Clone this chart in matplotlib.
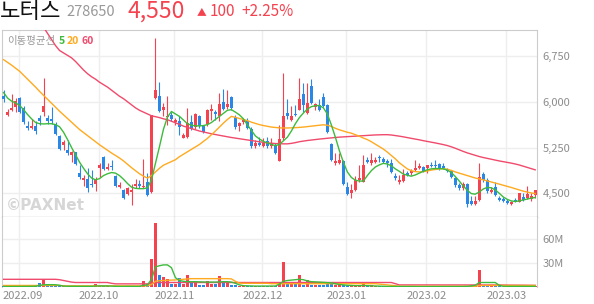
import numpy as np
import pandas as pd
import matplotlib
matplotlib.use("Agg")
import matplotlib.pyplot as plt
from matplotlib.transforms import offset_copy

plt.rcParams['font.family'] = ['Noto Sans CJK KR', 'DejaVu Sans']

# trading days shown (KRX holidays removed)
holidays = ['2022-09-09', '2022-09-12', '2022-10-03', '2022-10-10',
            '2022-12-30', '2023-01-23', '2023-01-24', '2023-03-01']
dates = pd.bdate_range('2022-08-26', '2023-03-13')
dates = dates[~dates.isin(pd.to_datetime(holidays))]

opens = [6100, 5790, 5860, 5910, 6060, 5900, 5600, 5570, 5610, 5730,
         5835, 5730, 5720, 5640, 5435, 5290, 5215, 5130, 5170, 4825,
         4715, 4735, 4660, 4660, 4910, 5095, 4895, 4950, 4785, 4595,
         4560, 4480, 4525, 4620, 4655, 4595, 4690, 4520, 6060, 6090,
         5870, 5745, 5780, 5660, 5680, 5410, 5430, 5660, 5580, 5760,
         5600, 5630, 5845, 5840, 5760, 6000, 5910, 6070, 5750, 5610,
         5660, 5680, 5560, 5270, 5320, 5280, 5350, 5280, 5290, 5035,
         5400, 5815, 5700, 5800, 5870, 6120, 5820, 6250, 5920, 5940,
         6070, 5940, 5310, 4990, 5000, 5030, 4600, 4510, 4560, 4720,
         4690, 5050, 4990, 5010, 5100, 5060, 5030, 4990, 4790, 4680,
         4700, 4840, 4830, 4880, 4920, 4930, 4915, 4970, 4970, 4980,
         4950, 4880, 4860, 4750, 4640, 4580, 4650, 4370, 4330, 4390,
         4820, 4720, 4520, 4610, 4420, 4410, 4380, 4320, 4390, 4360,
         4440, 4420, 4400, 4470]
highs = [6185, 5880, 6130, 6060, 6075, 5930, 5690, 5720, 5690, 5780,
         6395, 5790, 5910, 5660, 5450, 5380, 5380, 5200, 5180, 4965,
         4800, 4910, 4880, 4770, 4990, 5115, 4990, 5050, 4800, 4680,
         4570, 4600, 4660, 4730, 4715, 5060, 4840, 5790, 7050, 6330,
         5980, 6090, 5830, 5740, 5760, 5490, 5900, 5790, 5820, 5780,
         5620, 5880, 5960, 5860, 6150, 6210, 6190, 6090, 5780, 5660,
         5720, 5740, 5590, 5370, 5430, 5400, 5430, 5400, 5320, 5620,
         6470, 6050, 5930, 5950, 6390, 6310, 6310, 6380, 5980, 6040,
         6140, 5960, 5320, 5160, 5160, 5050, 4690, 4650, 4780, 4970,
         5120, 5090, 5160, 5100, 5130, 5100, 5060, 5060, 4840, 4800,
         4900, 4860, 4890, 5040, 5000, 4950, 4960, 5020, 5040, 5000,
         4990, 4910, 4880, 4770, 4670, 4680, 4670, 4450, 4450, 5000,
         4850, 4750, 4600, 4680, 4450, 4440, 4410, 4380, 4430, 4500,
         4510, 4620, 4500, 4560]
lows = [5990, 5770, 5850, 5830, 5810, 5640, 5530, 5550, 5470, 5620,
        5770, 5640, 5640, 5450, 5215, 5210, 5130, 5020, 4965, 4740,
        4620, 4520, 4610, 4535, 4770, 4880, 4885, 4880, 4605, 4580,
        4410, 4465, 4310, 4580, 4590, 4580, 4450, 4510, 6050, 5840,
        5760, 5620, 5690, 5620, 5450, 5400, 5400, 5540, 5560, 5570,
        5480, 5610, 5700, 5700, 5690, 5870, 5880, 5860, 5560, 5520,
        5640, 5550, 5250, 5240, 5270, 5260, 5240, 5250, 5140, 5030,
        5370, 5710, 5680, 5760, 5860, 5830, 5800, 5960, 5870, 5850,
        5920, 5490, 5030, 4970, 4980, 4640, 4470, 4420, 4540, 4690,
        4680, 4990, 4970, 4990, 5020, 4990, 4930, 4840, 4720, 4660,
        4680, 4780, 4800, 4870, 4890, 4850, 4840, 4930, 4920, 4880,
        4900, 4850, 4750, 4600, 4560, 4560, 4280, 4310, 4310, 4370,
        4690, 4500, 4500, 4450, 4380, 4360, 4330, 4310, 4360, 4350,
        4380, 4400, 4380, 4430]
closes = [6045, 5835, 5905, 6010, 5825, 5660, 5565, 5610, 5520, 5680,
          5935, 5690, 5680, 5465, 5230, 5340, 5160, 5175, 4975, 4760,
          4750, 4590, 4635, 4720, 4965, 4900, 4930, 4925, 4620, 4630,
          4420, 4590, 4560, 4650, 4620, 4620, 4470, 5775, 6185, 5855,
          5910, 5770, 5720, 5700, 5590, 5460, 5650, 5560, 5800, 5600,
          5510, 5860, 5880, 5800, 5970, 5880, 5970, 5890, 5590, 5650,
          5700, 5570, 5280, 5320, 5290, 5320, 5280, 5320, 5155, 5385,
          5760, 5760, 5770, 5775, 6050, 5940, 5980, 5980, 5960, 5860,
          5930, 5500, 5045, 5030, 5045, 4660, 4480, 4560, 4710, 4750,
          4960, 5010, 5040, 5040, 5070, 5020, 4990, 4850, 4745, 4715,
          4800, 4800, 4860, 4920, 4950, 4870, 4965, 4945, 4940, 4910,
          4910, 4860, 4760, 4640, 4580, 4650, 4330, 4330, 4370, 4760,
          4710, 4530, 4560, 4465, 4385, 4380, 4340, 4360, 4365, 4500,
          4390, 4480, 4450, 4550]

ma5 = [6150, 6060, 6010, 5980, 5940, 5870, 5790, 5720, 5660, 5640,
       5636, 5640, 5640, 5625, 5590, 5500, 5380, 5250, 5130, 5010,
       4910, 4820, 4750, 4720, 4740, 4790, 4820, 4840, 4830, 4790,
       4730, 4660, 4600, 4580, 4575, 4575, 4590, 4720, 4990, 5265,
       5550, 5750, 5840, 5800, 5760, 5700, 5640, 5615, 5605, 5603,
       5610, 5625, 5660, 5710, 5760, 5810, 5860, 5870, 5830, 5785,
       5720, 5620, 5530, 5440, 5390, 5350, 5325, 5300, 5280, 5300,
       5360, 5420, 5520, 5640, 5740, 5815, 5880, 5920, 5935, 5940,
       5900, 5800, 5620, 5420, 5200, 5010, 4850, 4760, 4715, 4700,
       4700, 4790, 4870, 4930, 4965, 4990, 4980, 4950, 4900, 4860,
       4815, 4795, 4780, 4800, 4830, 4860, 4885, 4900, 4905, 4905,
       4900, 4880, 4840, 4775, 4700, 4620, 4550, 4495, 4485, 4520,
       4570, 4595, 4590, 4555, 4500, 4440, 4400, 4375, 4365, 4375,
       4390, 4405, 4420, 4430]
ma20 = [6690, 6645, 6600, 6550, 6500, 6435, 6370, 6305, 6240, 6170,
        6105, 6040, 5975, 5910, 5845, 5785, 5725, 5665, 5605, 5545,
        5495, 5445, 5395, 5345, 5295, 5250, 5205, 5160, 5120, 5078,
        5030, 4975, 4920, 4870, 4820, 4780, 4750, 4790, 4850, 4910,
        4960, 4990, 5020, 5050, 5100, 5140, 5180, 5220, 5260, 5300,
        5350, 5400, 5460, 5520, 5585, 5650, 5710, 5760, 5745, 5725,
        5710, 5690, 5665, 5645, 5625, 5610, 5598, 5585, 5578, 5572,
        5570, 5570, 5572, 5575, 5580, 5585, 5592, 5600, 5608, 5615,
        5622, 5615, 5595, 5565, 5540, 5520, 5500, 5485, 5460, 5435,
        5405, 5380, 5345, 5305, 5265, 5225, 5175, 5120, 5065, 5000,
        4950, 4900, 4870, 4855, 4850, 4855, 4865, 4880, 4890, 4898,
        4903, 4895, 4875, 4850, 4830, 4810, 4790, 4770, 4750, 4735,
        4720, 4702, 4685, 4668, 4650, 4632, 4615, 4595, 4575, 4555,
        4535, 4520, 4505, 4495]
ma60 = [7750, 7700, 7650, 7600, 7550, 7500, 7450, 7400, 7340, 7280,
        7220, 7120, 7020, 6920, 6840, 6800, 6760, 6720, 6660, 6590,
        6520, 6460, 6410, 6370, 6320, 6280, 6240, 6190, 6140, 6090,
        6050, 6000, 5950, 5900, 5860, 5830, 5800, 5770, 5755, 5740,
        5720, 5705, 5680, 5655, 5630, 5600, 5580, 5560, 5540, 5520,
        5505, 5490, 5475, 5462, 5450, 5438, 5426, 5414, 5404, 5394,
        5384, 5374, 5364, 5354, 5344, 5334, 5326, 5320, 5315, 5312,
        5310, 5310, 5318, 5330, 5345, 5355, 5365, 5373, 5380, 5388,
        5395, 5402, 5408, 5414, 5420, 5424, 5428, 5432, 5436, 5440,
        5444, 5448, 5452, 5456, 5458, 5460, 5460, 5455, 5446, 5436,
        5425, 5412, 5400, 5388, 5376, 5362, 5350, 5338, 5325, 5312,
        5298, 5282, 5262, 5238, 5212, 5186, 5162, 5142, 5122, 5102,
        5086, 5072, 5058, 5044, 5030, 5018, 5006, 4994, 4980, 4964,
        4944, 4924, 4904, 4884]

# volume in millions of shares
volume = [1.8, 1.5, 1.6, 1.4, 1.5, 1.9, 1.3, 1.2, 1.4, 4.8,
          10.2, 2.2, 1.8, 1.6, 1.8, 1.5, 1.4, 1.2, 1.6, 1.5,
          1.3, 1.4, 1.2, 3.8, 1.5, 1.3, 1.1, 1.0, 1.2, 1.0,
          1.3, 1.1, 1.2, 1.0, 1.1, 7.5, 4.2, 35.5, 81.0, 15.5,
          12.3, 10.8, 4.6, 4.5, 12.0, 4.5, 15.4, 6.0, 7.8, 2.5,
          3.2, 7.5, 4.5, 4.3, 14.2, 7.6, 7.0, 3.2, 2.4, 1.6,
          1.4, 1.8, 2.0, 1.5, 1.2, 1.4, 1.8, 1.3, 1.5, 3.8,
          32.0, 6.5, 5.0, 4.0, 15.4, 3.2, 8.6, 3.5, 3.0, 2.5,
          3.5, 6.0, 5.0, 3.2, 2.4, 2.4, 1.8, 1.8, 1.6, 1.5,
          5.6, 3.0, 3.0, 1.6, 1.4, 1.2, 1.0, 1.3, 1.2, 1.0,
          1.1, 0.9, 0.9, 1.0, 0.8, 0.8, 0.9, 0.8, 0.8, 0.9,
          0.8, 0.7, 0.9, 1.0, 1.1, 1.0, 2.0, 2.5, 1.5, 21.2,
          2.6, 1.8, 1.2, 1.4, 1.1, 1.0, 0.9, 1.0, 0.8, 1.5,
          1.0, 1.6, 1.2, 1.5]
vol_ma5 = [1.0, 1.0, 1.0, 1.1, 1.1, 1.1, 1.2, 1.2, 1.3, 2.2,
           3.2, 3.3, 3.3, 3.2, 2.5, 1.5, 1.3, 1.3, 1.2, 1.2,
           1.3, 1.3, 1.2, 1.6, 1.7, 1.7, 1.6, 1.5, 1.2, 1.1,
           1.1, 1.2, 1.1, 1.1, 1.1, 2.5, 3.0, 10.0, 25.5, 27.0,
           28.0, 28.0, 24.5, 12.0, 8.5, 7.5, 7.0, 7.0, 7.0, 6.8,
           6.5, 6.5, 6.5, 6.5, 6.8, 7.0, 7.0, 6.5, 5.0, 3.0,
           2.0, 1.8, 1.6, 1.5, 1.5, 1.5, 1.5, 1.5, 1.6, 4.0,
           7.5, 8.5, 9.0, 9.5, 10.0, 9.5, 8.0, 7.0, 6.8, 6.5,
           6.2, 6.0, 5.5, 4.5, 3.5, 3.0, 2.5, 2.2, 2.0, 2.0,
           2.2, 2.0, 1.8, 1.6, 1.5, 1.2, 1.1, 1.1, 1.0, 1.0,
           1.0, 1.0, 1.0, 0.9, 0.9, 0.9, 0.9, 0.9, 0.9, 0.9,
           0.9, 0.9, 0.9, 0.9, 1.0, 1.0, 1.2, 1.6, 2.5, 6.0,
           6.0, 6.0, 6.0, 6.0, 2.5, 1.2, 1.2, 1.2, 1.2, 1.2,
           1.2, 1.2, 1.2, 1.2]
vol_ma20 = [2.3, 2.3, 2.3, 2.3, 2.3, 2.3, 2.3, 2.3, 2.3, 2.3,
            2.3, 2.3, 2.3, 2.3, 2.3, 1.8, 1.8, 1.8, 1.8, 1.8,
            1.8, 1.8, 1.8, 1.8, 1.8, 1.8, 1.8, 1.8, 1.8, 1.8,
            1.8, 1.8, 1.8, 1.8, 1.8, 1.8, 1.8, 3.5, 7.5, 8.2,
            8.5, 8.8, 9.0, 9.2, 9.8, 10.0, 10.5, 10.8, 10.8, 10.8,
            10.8, 10.8, 10.8, 10.8, 10.8, 10.8, 10.8, 10.5, 7.5, 5.2,
            5.0, 5.0, 5.0, 5.0, 5.0, 5.0, 5.0, 4.5, 4.5, 4.5,
            4.5, 4.5, 4.5, 4.5, 4.5, 4.5, 4.5, 4.5, 4.5, 4.5,
            4.5, 4.5, 4.5, 4.5, 4.5, 4.5, 4.5, 4.5, 4.5, 4.5,
            4.5, 4.5, 4.5, 4.5, 4.0, 3.5, 3.0, 2.5, 2.0, 1.3,
            1.3, 1.3, 1.3, 1.3, 1.3, 1.3, 1.3, 1.3, 1.3, 1.3,
            1.3, 1.3, 1.3, 1.3, 1.3, 1.3, 1.3, 1.3, 1.3, 2.2,
            2.3, 2.3, 2.3, 2.3, 2.3, 2.3, 2.3, 2.3, 2.3, 2.3,
            2.3, 2.3, 2.3, 2.3]
vol_ma60 = [10.0, 10.0, 10.0, 10.0, 10.0, 10.0, 10.0, 10.0, 10.0, 10.0,
            10.0, 10.0, 10.0, 10.0, 9.5, 8.5, 7.5, 6.5, 6.0, 6.0,
            6.0, 6.0, 6.0, 6.0, 6.0, 6.0, 6.0, 5.0, 4.3, 4.3,
            4.3, 4.3, 4.3, 4.3, 4.3, 4.3, 4.3, 4.8, 5.8, 6.0,
            6.0, 6.0, 6.0, 6.0, 6.0, 6.0, 6.0, 6.0, 6.0, 6.0,
            6.0, 6.0, 6.0, 6.0, 6.0, 6.0, 6.0, 6.0, 6.0, 6.0,
            6.0, 6.0, 6.0, 6.0, 6.0, 6.0, 6.0, 6.0, 6.0, 6.0,
            6.0, 6.0, 6.0, 6.0, 6.0, 6.0, 6.0, 6.0, 6.0, 6.0,
            6.0, 6.0, 6.0, 6.0, 6.0, 6.0, 6.0, 6.0, 6.0, 6.0,
            6.0, 6.0, 6.0, 6.0, 6.0, 6.0, 6.0, 6.0, 4.5, 3.0,
            3.0, 3.0, 3.0, 3.0, 3.0, 3.0, 3.0, 3.0, 3.0, 3.0,
            3.0, 3.0, 3.0, 3.0, 3.0, 3.0, 3.0, 3.0, 3.0, 3.0,
            3.0, 3.0, 3.0, 3.0, 2.9, 2.8, 2.8, 2.7, 2.7, 2.6,
            2.6, 2.5, 2.5, 2.4]

price_ticks = [4500, 5250, 6000, 6750]
vol_ticks = [30, 60]

RED = '#f5424f'
BLUE = '#2b87e6'
GREEN = '#3dbb3d'
ORANGE = '#ffaa1f'
PINK = '#f04a6c'
GRID = '#eeeeee'
LABEL = '#8c8c8c'

x = np.arange(len(dates))
o, h, l, c = map(np.array, (opens, highs, lows, closes))
colors = np.where(c >= o, RED, BLUE)

months = dates.to_period('M')
new_month = np.r_[True, months[1:] != months[:-1]]
month_idx = np.where(new_month)[0][1:]
month_labels = [d.strftime('%Y.%m') for d in dates[month_idx]]

W, H = 594, 304
fig = plt.figure(figsize=(W / 100, H / 100), dpi=100)


def box(left, top, right, bottom):
    return [left / W, 1 - bottom / H, (right - left) / W, (bottom - top) / H]


ax = fig.add_axes(box(2, 30, 537, 217))
axv = fig.add_axes(box(2, 217, 537, 287.3), sharex=ax)

# price panel
ax.vlines(x, l, h, colors=colors, lw=0.8, zorder=3)
ax.bar(x, np.maximum(np.abs(c - o), 14), bottom=np.minimum(o, c), width=0.7,
       color=colors, lw=0, zorder=3)
ax.plot(x, ma60, color=PINK, lw=1.0, zorder=4)
ax.plot(x, ma20, color=ORANGE, lw=1.0, zorder=4)
ax.plot(x, ma5, color=GREEN, lw=1.0, zorder=4)

ax.set_xlim(-0.4, len(x) - 0.55)
ax.set_ylim(4111, 7176)
ax.set_xticks(month_idx - 0.25)
ax.set_yticks(price_ticks)
ax.set_yticklabels([f'{v:,}' for v in price_ticks])
ax.yaxis.tick_right()
ax.grid(True, color=GRID, lw=1)
ax.set_axisbelow(True)
ax.tick_params(axis='x', length=0, labelbottom=False)
ax.tick_params(axis='y', length=0, pad=4, labelsize=8, labelcolor=LABEL)
for s in ('left', 'top', 'right'):
    ax.spines[s].set_color('#cccccc')
ax.spines['bottom'].set_color('#444444')

ax.text(0.008, 0.06, '©PAXNet', transform=ax.transAxes, fontsize=11,
        fontweight='bold', color='#d6d6d6', family='DejaVu Sans', va='center')

# volume panel
axv.bar(x, volume, width=0.7, color=colors, lw=0, zorder=3)
axv.plot(x, vol_ma60, color=PINK, lw=1.0, zorder=4)
axv.plot(x, vol_ma20, color=ORANGE, lw=1.0, zorder=4)
axv.plot(x, vol_ma5, color=GREEN, lw=1.0, zorder=4)
axv.set_ylim(0, 87.9)
axv.set_yticks(vol_ticks)
axv.set_yticklabels([f'{v}M' for v in vol_ticks])
axv.yaxis.tick_right()
axv.set_xticks(month_idx - 0.25)
axv.set_xticklabels(month_labels)
axv.grid(True, color=GRID, lw=1)
axv.set_axisbelow(True)
axv.tick_params(axis='x', length=0, pad=3, labelsize=8, labelcolor=LABEL)
axv.tick_params(axis='y', length=0, pad=4, labelsize=8, labelcolor=LABEL)
axv.spines['top'].set_visible(False)
axv.spines['bottom'].set_visible(False)
for s in ('left', 'right'):
    axv.spines[s].set_color('#cccccc')

# the first month label sits a little right so it stays inside the figure
first = axv.get_xticklabels()[0]
first.set_transform(offset_copy(first.get_transform(), fig=fig, x=4, units='dots'))


def ftext(px, py, s, **kw):
    fig.text(px / W, 1 - py / H, s, va='center', **kw)


# header
ftext(0, 11, '노터스', fontsize=16, color='#111111')
ftext(66, 12, '278650', fontsize=10.5, color='#999999')
ftext(127, 11, '4,550', fontsize=16.5, color=RED)
ftext(197, 12, '▲', fontsize=7, color=RED)
ftext(210, 12, '100', fontsize=11, color=RED)
ftext(241, 12, '+2.25%', fontsize=11, color=RED)

# moving average legend
ftext(7, 41, '이동평균선', fontsize=7.5, color='#999999')
ftext(59, 41, '5', fontsize=7.5, color=GREEN, fontweight='bold')
ftext(67, 41, '20', fontsize=7.5, color=ORANGE, fontweight='bold')
ftext(82, 41, '60', fontsize=7.5, color=PINK, fontweight='bold')

fig.savefig('out.png', dpi=100)
